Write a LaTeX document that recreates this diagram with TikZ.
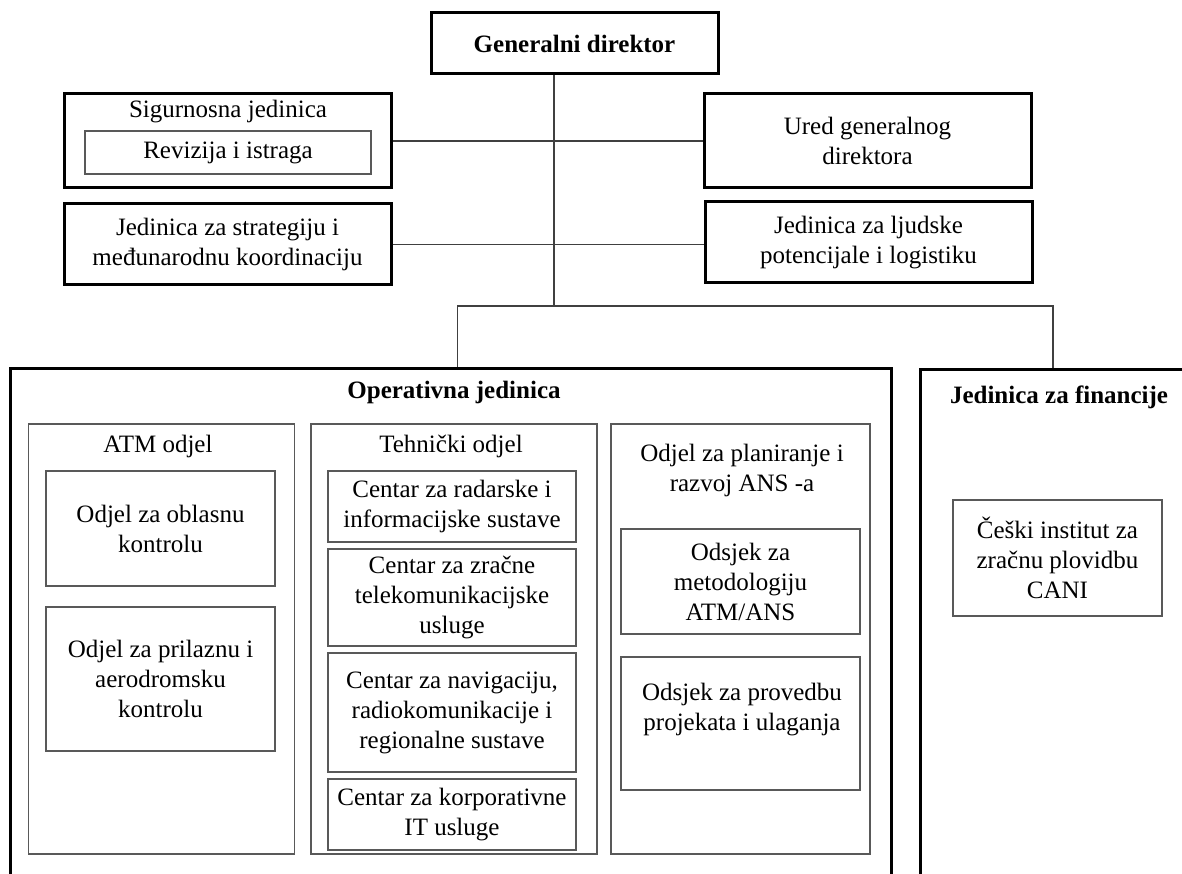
\documentclass[tikz,border=0pt]{standalone}
\usepackage{fontspec}
\setmainfont{Liberation Serif}
\usepackage{tikz}

\tikzset{
  thickbox/.style={draw=black, line width=3pt, inner sep=0pt, align=center},
  thinbox/.style={draw=black!65, line width=1.6pt, inner sep=0pt, align=center},
  txt/.style={inner sep=0pt, align=center},
  link/.style={draw=black!75, line width=1.6pt}
}

\begin{document}
\begin{tikzpicture}[x=1pt, y=-1pt, font=\fontsize{25}{30}\selectfont]

\useasboundingbox (0,0) rectangle (1182,874);
\clip (0,0) rectangle (1182,874);

% top level
\node[thickbox, minimum width=287, minimum height=61] (gd) at (574.5,43.5) {\textbf{Generalni direktor}};

\node[thickbox, minimum width=327, minimum height=94] (sig) at (227.5,141) {};
\node[txt] (sigtitle) at (228,112) {Sigurnosna jedinica};
\node[thinbox, minimum width=286, minimum height=43] (rev) at (228,152.5) {Revizija i istraga};

\node[thickbox, minimum width=327, minimum height=81] (strat) at (227.5,244.5) {Jedinica za strategiju i\\međunarodnu koordinaciju};
\node[thickbox, minimum width=327, minimum height=94] (ured) at (867.5,141) {Ured generalnog\\direktora};
\node[thickbox, minimum width=327, minimum height=81] (ljud) at (868.5,242.5) {Jedinica za ljudske\\potencijale i logistiku};

% units
\node[thickbox, minimum width=881, minimum height=532] (oper) at (451.35,634) {};
\node[txt] (opertitle) at (454,392) {\textbf{Operativna jedinica}};
\node[thickbox, minimum width=278, minimum height=531] (fin) at (1059,634.5) {};
\node[txt] (fintitle) at (1059,397) {\textbf{Jedinica za financije}};

% ATM odjel
\node[thinbox, minimum width=266, minimum height=430] (atm) at (161.5,639) {};
\node[txt] (atmtitle) at (158,446) {ATM odjel};
\node[thinbox, minimum width=229, minimum height=115] (obl) at (160.5,528.5) {Odjel za oblasnu\\kontrolu};
\node[thinbox, minimum width=229, minimum height=144] (pril) at (160.5,679) {Odjel za prilaznu i\\aerodromsku\\kontrolu};

% Tehnicki odjel
\node[thinbox, minimum width=286, minimum height=430] (teh) at (454,639) {};
\node[txt] (tehtitle) at (451,446) {Tehnički odjel};
\foreach \nm/\cy/\h/\txt in {rad/506.5/71/{Centar za radarske i\\informacijske sustave},
    zrac/597.5/97/{Centar za zračne\\telekomunikacijske\\usluge},
    nav/712.5/119/{Centar za navigaciju,\\radiokomunikacije i\\regionalne sustave},
    korp/814.5/71/{Centar za korporativne\\IT usluge}}
  \node[thinbox, minimum width=248, minimum height=\h] (\nm) at (452,\cy) {\txt};

% planiranje
\node[thinbox, minimum width=259, minimum height=430] (plan) at (740.5,639) {};
\node[txt] (plantitle) at (742,470) {Odjel za planiranje i\\razvoj ANS -a};
\node[thinbox, minimum width=239, minimum height=105] (met) at (740.5,581.5) {Odsjek za\\metodologiju\\ATM/ANS};
\node[thinbox, minimum width=239, minimum height=133] (prov) at (740.5,723.5) {};
\node[txt] (provtxt) at (742,710) {Odsjek za provedbu\\projekata i ulaganja};

\node[thinbox, minimum width=209, minimum height=116] (cani) at (1057.5,558) {Češki institut za\\zračnu plovidbu\\CANI};

% connectors
\coordinate (hub) at (554,306);
\draw[link] (gd.south -| hub) -- (hub);
\draw[link] (sig.east) -- (ured.west);
\draw[link] (strat.east) -- (strat.east -| ljud.west);
\draw[link] ([xshift=6pt]oper.north) |- (hub) -| ([xshift=-6pt]fin.north);

\end{tikzpicture}
\end{document}
